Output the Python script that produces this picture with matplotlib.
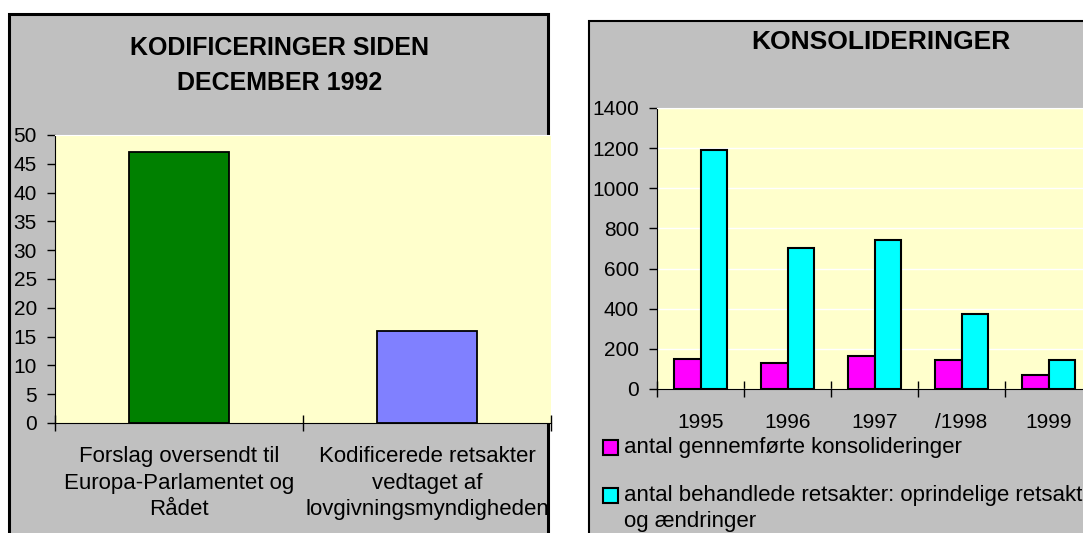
import numpy as np
import matplotlib
matplotlib.use("Agg")
import matplotlib.pyplot as plt
from matplotlib.patches import Rectangle

plt.rcParams['font.family'] = ['Liberation Sans', 'DejaVu Sans']

# --- data ---
kod_labels = ["Forslag oversendt til\nEuropa-Parlamentet og\nRådet",
              "Kodificerede retsakter\nvedtaget af\nlovgivningsmyndigheden"]
kod_values = [47, 16]
kod_colors = ["#008000", "#8080FF"]

kons_years = ["1995", "1996", "1997", "/1998", "1999"]
kons_gennemfoerte = [150, 130, 165, 145, 72]
kons_behandlede = [1190, 700, 740, 375, 145]
kons_series = ["antal gennemførte konsolideringer",
               "antal behandlede retsakter: oprindelige retsakter\nog ændringer"]
kons_colors = ["#FF00FF", "#00FFFF"]

W, H = 1083, 533
GREY = "#C0C0C0"
YELLOW = "#FFFFCC"


def fx(x):
    return x / W


def fy(y):
    return 1 - y / H


fig = plt.figure(figsize=(W / 100, H / 100), dpi=100, facecolor="white")

# grey chart boxes
fig.patches.append(Rectangle((fx(9), fy(545)), fx(548) - fx(9), fy(14) - fy(545),
                             transform=fig.transFigure, facecolor=GREY,
                             edgecolor="black", linewidth=2.2, zorder=-1))
fig.patches.append(Rectangle((fx(589), fy(545)), fx(1100) - fx(589), fy(21) - fy(545),
                             transform=fig.transFigure, facecolor=GREY,
                             edgecolor="black", linewidth=1.5, zorder=-1))


def style_axes(ax):
    ax.set_facecolor(YELLOW)
    ax.spines['top'].set_color("white")
    ax.spines['right'].set_visible(False)
    ax.spines['left'].set_color("black")
    ax.spines['bottom'].set_color("black")
    ax.tick_params(axis='y', direction='out', length=6, width=1, pad=7, labelsize=15)
    ax.tick_params(axis='x', which='minor', direction='inout', length=12, width=1)


# --- left: kodificeringer ---
ax1 = fig.add_axes([fx(55), fy(423), fx(551) - fx(55), fy(135) - fy(423)])
style_axes(ax1)
x1 = np.arange(len(kod_values)) + 0.5
ax1.bar(x1, kod_values, width=0.4, color=kod_colors, edgecolor="black", linewidth=1.3)
ax1.set_xlim(0, len(kod_values))
ax1.set_ylim(0, 50)
ax1.set_yticks(np.arange(0, 51, 5))
ax1.set_xticks(x1)
ax1.set_xticklabels([])
ax1.tick_params(axis='x', which='major', length=0)
ax1.set_xticks(np.arange(len(kod_values) + 1), minor=True)
# category labels as text so the line spacing can follow the reference
for xi, lab in zip(x1, kod_labels):
    ax1.text(xi, -23 / 288, lab, transform=ax1.get_xaxis_transform(), ha="center",
             va="top", fontsize=16, linespacing=1.35)
fig.text(fx(280), fy(65.5), "KODIFICERINGER SIDEN\nDECEMBER 1992", ha="center", va="center",
         fontsize=18, fontweight="bold", linespacing=1.55)

# --- right: konsolideringer ---
ax2 = fig.add_axes([fx(657), fy(389), fx(1092) - fx(657), fy(108) - fy(389)])
style_axes(ax2)
x2 = np.arange(len(kons_years)) + 0.5
ax2.bar(x2 - 0.155, kons_gennemfoerte, width=0.31, color=kons_colors[0],
        edgecolor="black", linewidth=1.5, zorder=3)
ax2.bar(x2 + 0.155, kons_behandlede, width=0.31, color=kons_colors[1],
        edgecolor="black", linewidth=1.5, zorder=3)
ax2.set_xlim(0, len(kons_years))
ax2.set_ylim(0, 1400)
ax2.set_yticks(np.arange(0, 1401, 200))
ax2.yaxis.grid(True, color="white", linewidth=1)
ax2.set_axisbelow(True)
ax2.set_xticks(x2)
ax2.set_xticklabels(kons_years, fontsize=15)
ax2.set_xticks(np.arange(len(kons_years) + 1), minor=True)
ax2.tick_params(axis='x', which='major', length=0, pad=17)
fig.text(fx(881), fy(42), "KONSOLIDERINGER", ha="center", va="center",
         fontsize=19, fontweight="bold")

# legend (drawn by hand so the wrapped label aligns on its first line)
leg_y = [447, 495]
for i, (lab, col) in enumerate(zip(kons_series, kons_colors)):
    fig.patches.append(Rectangle((fx(603), fy(leg_y[i] + 7.5)), fx(618) - fx(603),
                                 fy(leg_y[i] - 7.5) - fy(leg_y[i] + 7.5),
                                 transform=fig.transFigure, facecolor=col,
                                 edgecolor="black", linewidth=1.5, zorder=2))
    fig.text(fx(624), fy(leg_y[i] - 10), lab, ha="left", va="top", fontsize=16,
             linespacing=1.3)

fig.savefig("out.png", dpi=100, facecolor="white")
